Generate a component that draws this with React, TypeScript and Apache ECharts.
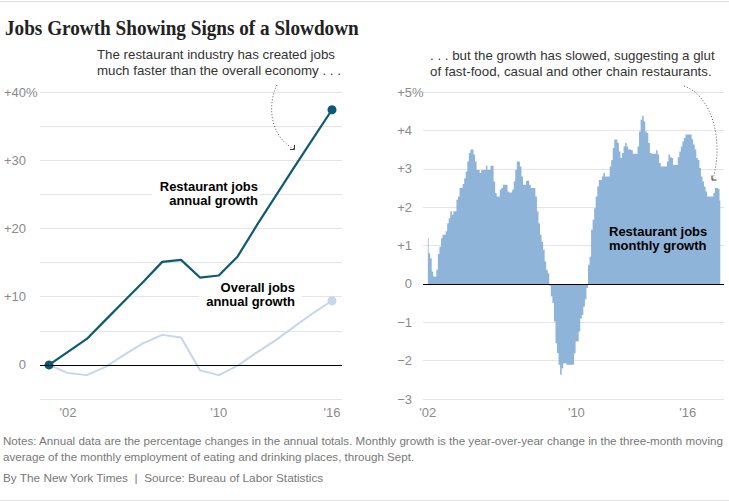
import React, { useEffect, useRef } from "react";
import * as echarts from "echarts";

// ---- Data ----
const annualYears = [2001, 2002, 2003, 2004, 2005, 2006, 2007, 2008, 2009, 2010, 2011, 2012, 2013, 2014, 2015, 2016];
const restaurantAnnual = [0, 1.9, 3.8, 6.6, 9.4, 12.2, 15.1, 15.4, 12.8, 13.1, 15.9, 20.4, 24.7, 29.0, 33.2, 37.4];
const overallAnnual = [0, -1.2, -1.5, -0.3, 1.5, 3.2, 4.4, 4.0, -0.8, -1.5, -0.1, 1.8, 3.6, 5.6, 7.6, 9.4];

const monthlyStartYear = 2002; // Jan 2002, monthly through 2017
const restaurantMonthly = [
  1.19, 0.8, 0.67, 0.32, 0.19, 0.19, 0.37, 0.78, 0.97, 1.19,
  1.28, 1.28, 1.37, 1.58, 1.71, 1.89, 1.8, 1.89, 1.89, 2.19,
  2.28, 2.5, 2.5, 2.6, 2.75, 2.93, 3.19, 3.41, 3.5, 3.5,
  3.37, 3.19, 2.97, 2.97, 2.89, 2.97, 2.97, 2.97, 3.08, 2.97,
  2.97, 3.08, 3.08, 2.67, 2.37, 2.28, 2.28, 2.45, 2.5, 2.58,
  2.58, 2.58, 2.41, 2.38, 2.38, 2.45, 2.67, 2.97, 3.19, 3.19,
  3.06, 2.8, 2.58, 2.58, 2.69, 2.69, 2.58, 2.5, 2.5, 2.5,
  2.28, 1.89, 1.58, 1.28, 1.1, 0.89, 0.58, 0.37, 0.28, -0.05,
  -0.33, -0.5, -0.98, -1.55, -1.81, -2.11, -2.37, -2.2, -2.07, -2.07,
  -2.11, -2.11, -2.11, -2.11, -2.11, -1.81, -1.5, -1.5, -1.24, -0.9,
  -0.81, -0.59, -0.4, -0.11, 0.5, 0.71, 1.41, 1.67, 1.97, 2.28,
  2.54, 2.71, 2.71, 2.8, 2.89, 2.8, 2.8, 2.8, 3.06, 3.23,
  3.54, 3.76, 3.76, 3.67, 3.45, 3.28, 3.41, 3.58, 3.67, 3.58,
  3.5, 3.5, 3.48, 3.39, 3.39, 3.39, 3.58, 3.97, 4.28, 4.38,
  4.23, 3.97, 3.93, 3.67, 3.41, 3.39, 3.39, 3.39, 3.48, 3.37,
  3.15, 3.06, 3.06, 3.06, 3.06, 3.19, 3.37, 3.3, 3.28, 3.1,
  3.1, 3.1, 3.3, 3.45, 3.58, 3.71, 3.8, 3.89, 3.89, 3.89,
  3.89, 3.77, 3.63, 3.5, 3.28, 3.23, 3.02, 2.8, 2.67, 2.54,
  2.41, 2.28, 2.28, 2.28, 2.28, 2.37, 2.5, 2.5, 2.47, 2.17,
];

const xTickYears = [2002, 2010, 2016];

const TITLE = "Jobs Growth Showing Signs of a Slowdown";
const NOTE_LEFT = "The restaurant industry has created jobs\nmuch faster than the overall economy . . .";
const NOTE_RIGHT = ". . . but the growth has slowed, suggesting a glut\nof fast-food, casual and other chain restaurants.";
const LABEL_REST = "Restaurant jobs\nannual growth";
const LABEL_OVERALL = "Overall jobs\nannual growth";
const LABEL_MONTHLY = "Restaurant jobs\nmonthly growth";
const NOTES =
  "Notes: Annual data are the percentage changes in the annual totals. Monthly growth is the year-over-year change in the three-month moving\naverage of the monthly employment of eating and drinking places, through Sept.";
const BYLINE = "By The New York Times  |  Source: Bureau of Labor Statistics";

const SANS = '"Liberation Sans", Arial, sans-serif';
const SERIF = '"Liberation Serif", "DejaVu Serif", serif';

const TICK_COLOR = "#8a8a8a";
const GRID_COLOR = "#e4e4e4";
const TEAL = "#0e5a74";
const LIGHT = "#c4d7eb";
const AREA = "#8fb4da";

const yearFmt = (v: number) => "'" + String(Math.round(v)).slice(2);
const signFmt = (v: number) => (v > 0 ? "+" + v : v < 0 ? "\u2212" + Math.abs(v) : "0");

export default function App() {
  const ref = useRef<HTMLDivElement>(null);
  useEffect(() => {
    if (!ref.current) return;
    const chart = echarts.init(ref.current, undefined, { renderer: "svg" });
    const lastA = annualYears.length - 1;
    const tickLabel = {
      color: TICK_COLOR,
      fontSize: 13,
      fontFamily: SANS,
    };
    const tokenBase = { color: TICK_COLOR, fontSize: 13, fontFamily: SANS, align: "left" };
    const pctRich = { n: { ...tokenBase }, p: { ...tokenBase, width: 0.01 } };

    const option: any = {
      animation: false,
      grid: [
        { left: 40, top: 92, width: 302, height: 307 },
        { left: 423, top: 92, width: 301, height: 307 },
      ],
      xAxis: [
        {
          gridIndex: 0,
          type: "value",
          min: 2000.52,
          max: 2016.53,
          axisLine: { show: false },
          axisTick: { show: false },
          splitLine: { show: false },
          axisLabel: { ...tickLabel, margin: 7, customValues: xTickYears, formatter: yearFmt },
        },
        {
          gridIndex: 1,
          type: "value",
          min: 2001.74,
          max: 2017.95,
          axisLine: { show: false },
          axisTick: { show: false },
          splitLine: { show: false },
          axisLabel: { ...tickLabel, margin: 7, customValues: xTickYears, formatter: yearFmt },
        },
      ],
      yAxis: [
        {
          gridIndex: 0,
          type: "value",
          min: -5,
          max: 40,
          interval: 5,
          axisLine: { show: false },
          axisTick: { show: false },
          splitLine: { lineStyle: { color: GRID_COLOR, width: 1 } },
          axisLabel: {
            ...tickLabel,
            margin: 14,
            rich: pctRich,
            formatter: (v: number) => {
              if (v % 10 !== 0 || v < 0) return "";
              if (v === 40) return "{n|" + signFmt(v) + "}{p|%}";
              return signFmt(v);
            },
          },
        },
        {
          gridIndex: 1,
          type: "value",
          min: -3,
          max: 5,
          interval: 1,
          axisLine: { show: false },
          axisTick: { show: false },
          splitLine: { lineStyle: { color: GRID_COLOR, width: 1 } },
          axisLabel: {
            ...tickLabel,
            margin: 11,
            rich: pctRich,
            formatter: (v: number) => (v === 5 ? "{n|" + signFmt(v) + "}{p|%}" : signFmt(v)),
          },
        },
      ],
      series: [
        {
          type: "line",
          name: "Overall jobs",
          xAxisIndex: 0,
          yAxisIndex: 0,
          data: annualYears.map((y, i) => [y, overallAnnual[i]]),
          lineStyle: { color: LIGHT, width: 2 },
          itemStyle: { color: LIGHT },
          symbol: "circle",
          showSymbol: true,
          symbolSize: (_v: any, p: any) => (p.dataIndex === lastA ? 9 : 0),
          silent: true,
          markLine: {
            silent: true,
            symbol: "none",
            label: { show: false },
            lineStyle: { color: "#000", width: 1, type: "solid" },
            data: [{ yAxis: 0 }],
          },
          z: 2,
        },
        {
          type: "line",
          name: "Restaurant jobs",
          xAxisIndex: 0,
          yAxisIndex: 0,
          data: annualYears.map((y, i) => [y, restaurantAnnual[i]]),
          lineStyle: { color: TEAL, width: 2.2 },
          itemStyle: { color: TEAL },
          symbol: "circle",
          showSymbol: true,
          symbolSize: (_v: any, p: any) => (p.dataIndex === 0 || p.dataIndex === lastA ? 9 : 0),
          silent: true,
          z: 3,
        },
        {
          type: "line",
          name: "Restaurant jobs monthly",
          xAxisIndex: 1,
          yAxisIndex: 1,
          step: "middle",
          data: restaurantMonthly.map((v, i) => [monthlyStartYear + i / 12, v]),
          symbol: "none",
          lineStyle: { width: 0, opacity: 0 },
          areaStyle: { color: AREA, opacity: 1 },
          silent: true,
          markLine: {
            silent: true,
            symbol: "none",
            label: { show: false },
            lineStyle: { color: "#000", width: 1, type: "solid" },
            data: [{ yAxis: 0 }],
          },
          z: 2,
        },
      ],
      graphic: [
        { type: "line", shape: { x1: 0, y1: 1.5, x2: 729, y2: 1.5 }, style: { stroke: "#e2e2e2", lineWidth: 1 } },
        { type: "line", shape: { x1: 0, y1: 500.5, x2: 729, y2: 500.5 }, style: { stroke: "#e2e2e2", lineWidth: 1 } },
        {
          type: "text",
          x: 5,
          y: 28,
          scaleX: 0.96,
          style: { text: TITLE, fontFamily: SERIF, fontWeight: "bold", fontSize: 20, fill: "#222", verticalAlign: "middle", align: "left" },
        },
        {
          type: "text",
          x: 97,
          y: 46,
          style: { text: NOTE_LEFT, fontFamily: SANS, fontSize: 13.3, lineHeight: 16.5, fill: "#333", verticalAlign: "top", align: "left" },
        },
        {
          type: "text",
          x: 430,
          y: 47,
          style: { text: NOTE_RIGHT, fontFamily: SANS, fontSize: 13.3, lineHeight: 16.5, fill: "#333", verticalAlign: "top", align: "left" },
        },
        {
          type: "text",
          x: 260,
          y: 179,
          z: 1,
          style: {
            text: LABEL_REST,
            fontFamily: SANS,
            fontWeight: "bold",
            fontSize: 13,
            lineHeight: 14.5,
            fill: "#000",
            align: "right",
            verticalAlign: "top",
            backgroundColor: "#fff",
            padding: [0, 2, 0, 8],
          },
        },
        {
          type: "text",
          x: 302,
          y: 280,
          z: 1,
          style: {
            text: LABEL_OVERALL,
            fontFamily: SANS,
            fontWeight: "bold",
            fontSize: 13,
            lineHeight: 14.5,
            fill: "#000",
            align: "right",
            verticalAlign: "top",
            backgroundColor: "#fff",
            padding: [0, 7, 0, 7],
          },
        },
        {
          type: "text",
          x: 609,
          y: 224,
          z: 10,
          style: {
            text: LABEL_MONTHLY,
            fontFamily: SANS,
            fontWeight: "bold",
            fontSize: 13,
            lineHeight: 14.5,
            fill: "#000",
            align: "left",
            verticalAlign: "top",
          },
        },
        // left arrow
        {
          type: "bezierCurve",
          z: 10,
          shape: { x1: 277, y1: 85, cpx1: 266, cpy1: 108, cpx2: 272, cpy2: 138, x2: 294, y2: 149 },
          style: { stroke: "#555", lineWidth: 1, lineDash: [1, 2], fill: null },
        },
        {
          type: "polyline",
          z: 10,
          shape: { points: [[290, 149.5], [294.5, 149.5], [294.5, 145]] },
          style: { stroke: "#333", lineWidth: 1, fill: null },
        },
        // right arrow
        {
          type: "bezierCurve",
          z: 10,
          shape: { x1: 684, y1: 86, cpx1: 712, cpy1: 96, cpx2: 724, cpy2: 140, x2: 713, y2: 179 },
          style: { stroke: "#555", lineWidth: 1, lineDash: [1, 2], fill: null },
        },
        {
          type: "polyline",
          z: 10,
          shape: { points: [[712, 175.5], [712, 180], [716.5, 180]] },
          style: { stroke: "#333", lineWidth: 1, fill: null },
        },
        {
          type: "text",
          x: 3,
          y: 432,
          style: { text: NOTES, fontFamily: SANS, fontSize: 11.6, lineHeight: 16, fill: "#777", verticalAlign: "top", align: "left" },
        },
        {
          type: "text",
          x: 3,
          y: 478,
          style: { text: BYLINE, fontFamily: SANS, fontSize: 11.8, fill: "#777", verticalAlign: "middle", align: "left" },
        },
      ],
    };
    chart.setOption(option);
    return () => chart.dispose();
  }, []);
  return (
    <div
      ref={ref}
      style={{ position: "fixed", left: 0, top: 0, width: 729, height: 502, background: "#fff" }}
    />
  );
}
